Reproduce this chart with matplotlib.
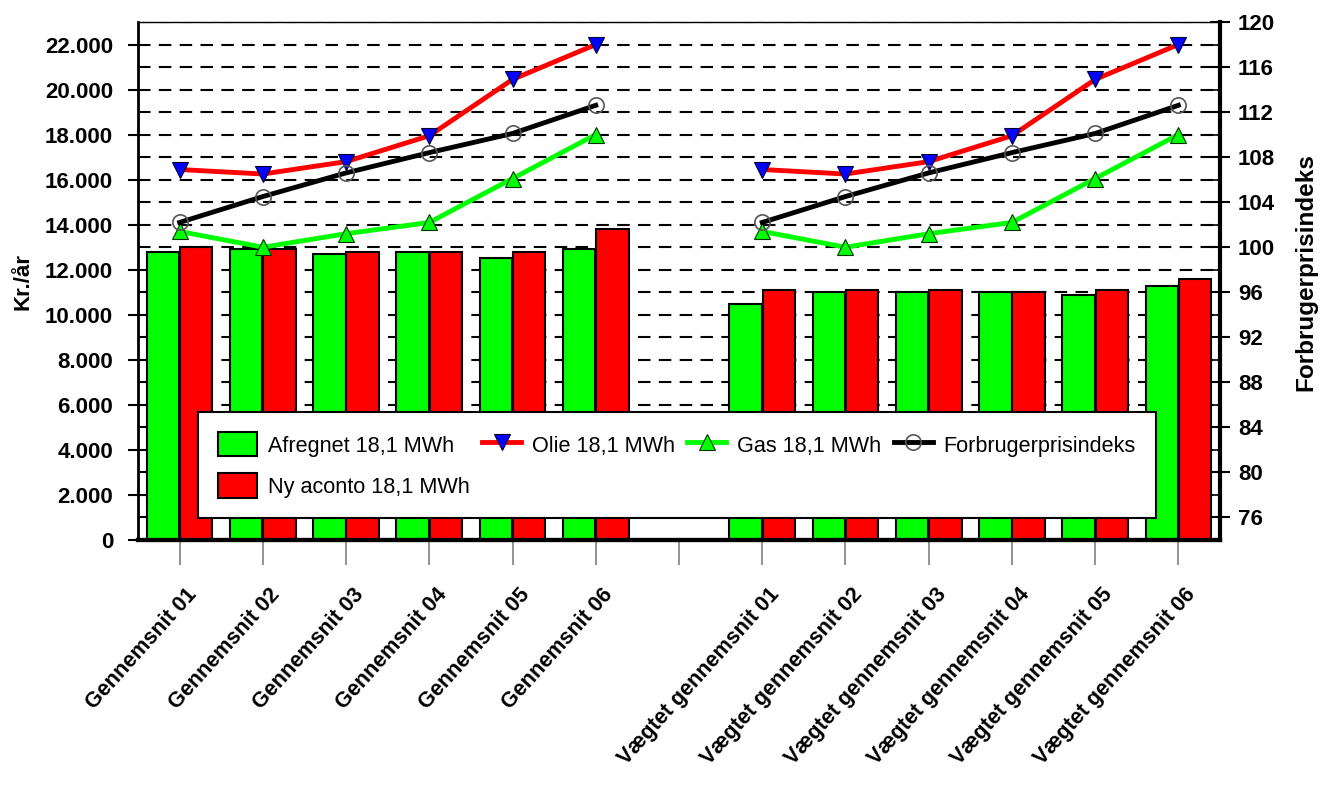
import numpy as np
import matplotlib
matplotlib.use("Agg")
import matplotlib.pyplot as plt
import matplotlib.transforms as mtransforms
from matplotlib.lines import Line2D
from matplotlib.patches import Patch
from matplotlib.ticker import MultipleLocator, FuncFormatter

plt.rcParams['font.family'] = ['Liberation Sans', 'DejaVu Sans']

# Categories (empty slot between the two groups)
gns_labels = ['Gennemsnit 01', 'Gennemsnit 02', 'Gennemsnit 03',
              'Gennemsnit 04', 'Gennemsnit 05', 'Gennemsnit 06']
vaegt_labels = ['Vægtet gennemsnit 01', 'Vægtet gennemsnit 02', 'Vægtet gennemsnit 03',
                'Vægtet gennemsnit 04', 'Vægtet gennemsnit 05', 'Vægtet gennemsnit 06']

# Bars, kr/år
afregnet_gns = [12800, 12900, 12700, 12800, 12500, 12900]
afregnet_vaegt = [10500, 11000, 11000, 11000, 10900, 11300]
aconto_gns = [13000, 12900, 12800, 12800, 12800, 13800]
aconto_vaegt = [11100, 11100, 11100, 11000, 11100, 11600]

# Lines (same in both groups)
olie = [16450, 16250, 16800, 17950, 20450, 22000]
gas = [13700, 13000, 13600, 14100, 16050, 18000]
fpi = [102.2, 104.5, 106.6, 108.4, 110.1, 112.6]  # right axis

labels = gns_labels + [''] + vaegt_labels
gap = [np.nan]
afregnet = np.array(afregnet_gns + gap + afregnet_vaegt, dtype=float)
aconto = np.array(aconto_gns + gap + aconto_vaegt, dtype=float)
olie_all = np.array(olie + gap + olie, dtype=float)
gas_all = np.array(gas + gap + gas, dtype=float)
fpi_all = np.array(fpi + gap + fpi, dtype=float)
x = np.arange(len(labels))

GREEN = '#00FF00'
RED = '#FF0000'
BLUE = '#0000FF'

fig = plt.figure(figsize=(13.24, 7.85), dpi=100)
ax = fig.add_axes([138 / 1324, 1 - 540 / 785, (1220 - 138) / 1324, (540 - 22) / 785])

ax.set_axisbelow(True)
ax.bar(x - 0.2, afregnet, width=0.39, color=GREEN, edgecolor='black', linewidth=1.5, zorder=2)
ax.bar(x + 0.2, aconto, width=0.39, color=RED, edgecolor='black', linewidth=1.5, zorder=2)
ax.plot(x, olie_all, color=RED, lw=3.5, marker='v', ms=11, mfc=BLUE, mec='#000033', mew=0.8, zorder=4)
ax.plot(x, gas_all, color=GREEN, lw=3.5, marker='^', ms=11, mfc=GREEN, mec='#003300', mew=0.8, zorder=4)

ax.set_xlim(-0.5, len(labels) - 0.5)
ax.set_ylim(0, 23000)
ax.yaxis.set_major_locator(MultipleLocator(2000))
ax.yaxis.set_minor_locator(MultipleLocator(1000))
ax.yaxis.set_major_formatter(FuncFormatter(lambda v, p: '{:,}'.format(int(v)).replace(',', '.')))
ax.grid(axis='y', which='both', color='black', linestyle=(0, (6, 4)), linewidth=1.5)
ax.tick_params(axis='y', which='major', direction='out', length=7, width=1.5,
               labelsize=16, pad=11)
ax.tick_params(axis='y', which='minor', length=0)
for t in ax.get_yticklabels():
    t.set_fontweight('bold')
ax.set_ylabel('Kr./år', fontsize=16, fontweight='bold')
ax.yaxis.set_label_coords(-0.097, 0.50)

ax.set_xticks(x)
ax.set_xticklabels(labels, rotation=48, ha='right', va='center', rotation_mode='anchor',
                   fontsize=15.5, fontweight='bold')
ax.tick_params(axis='x', direction='out', length=18, width=1.2, color='#808080', pad=19)
offset = mtransforms.ScaledTranslation(0.14, 0, fig.dpi_scale_trans)
for t in ax.get_xticklabels():
    t.set_transform(t.get_transform() + offset)

ax.spines['left'].set_linewidth(2)
ax.spines['bottom'].set_linewidth(3)
ax.spines['top'].set_linewidth(1)
ax.spines['top'].set_color('#333333')

ax2 = ax.twinx()
ax2.plot(x, fpi_all, color='black', lw=3.5, marker='o', ms=11, mfc='none', mec='#555555', mew=1.2, zorder=4)
ax2.set_ylim(74, 120)
ax2.yaxis.set_major_locator(MultipleLocator(4))
ax2.yaxis.set_minor_locator(MultipleLocator(2))
ax2.tick_params(axis='y', which='major', direction='inout', length=14, width=1.5,
                labelsize=16, pad=6)
ax2.tick_params(axis='y', which='minor', direction='in', length=6, width=1.2)
for t in ax2.get_yticklabels():
    t.set_fontweight('bold')
ax2.spines['right'].set_linewidth(3)
ax2.spines['bottom'].set_linewidth(3)
ax2.set_ylabel('Forbrugerprisindeks', fontsize=17.5, fontweight='bold')
ax2.yaxis.set_label_coords(1.069, 0.517)

handles = [
    Patch(facecolor=GREEN, edgecolor='black', linewidth=1.5),
    Patch(facecolor=RED, edgecolor='black', linewidth=1.5),
    Line2D([], [], color=RED, lw=3.5, marker='v', ms=11, mfc=BLUE, mec='#000033', mew=0.8),
    Line2D([], [], color=GREEN, lw=3.5, marker='^', ms=11, mfc=GREEN, mec='#003300', mew=0.8),
    Line2D([], [], color='black', lw=3.5, marker='o', ms=11, mfc='none', mec='#555555', mew=1.2),
]
leg_labels = ['Afregnet 18,1 MWh', 'Ny aconto 18,1 MWh', 'Olie 18,1 MWh',
              'Gas 18,1 MWh', 'Forbrugerprisindeks']
leg = ax2.legend(handles, leg_labels, ncol=4, loc='upper left',
                 bbox_to_anchor=((198 - 138) / 1082, (540 - 412) / 518), borderaxespad=0,
                 fontsize=15.6, frameon=True, fancybox=False, framealpha=1,
                 edgecolor='black', handlelength=1.8, handleheight=1.35,
                 columnspacing=0.57, handletextpad=0.5, borderpad=0.93, labelspacing=0.78)
leg.get_frame().set_linewidth(1.5)
leg.set_zorder(10)

fig.savefig('out.png', dpi=100)
